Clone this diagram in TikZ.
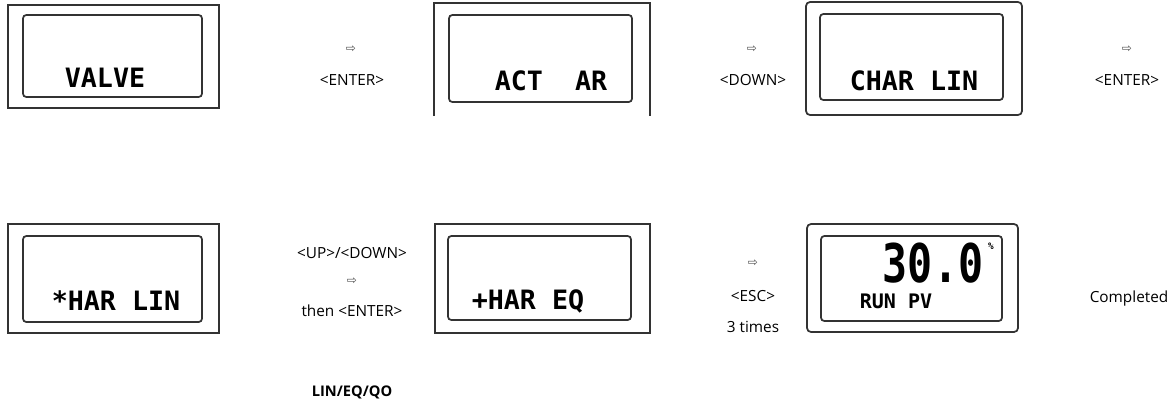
\documentclass[tikz,border=0pt]{standalone}
\usepackage{fontspec}
\setmainfont{Open Sans}
\newfontfamily\lcdfont{DejaVu Sans Mono}
\newfontfamily\symfont{DejaVu Sans}
\usetikzlibrary{positioning}

\begin{document}
\begin{tikzpicture}[x=0.75pt, y=-0.75pt, every node/.style={font=\fontsize{11.5}{13}\selectfont, inner sep=0pt}, frame/.style={draw=black!80, line width=1.3pt}, screen/.style={draw=black!80, line width=1.3pt, rounded corners=2.5pt}, lcd/.style={font=\lcdfont\bfseries\fontsize{20}{22}\selectfont}, tip/.style={font=\symfont\fontsize{9}{10}\selectfont, text=black!70}]
\useasboundingbox (0,0) rectangle (1176,405);
% row 1
\draw[frame] (8,5) rectangle (219,108);
\draw[screen] (23,15) rectangle (202,97);
\node[lcd] (valve) at (105,78) {VALVE};
\node[tip] (t1) at (351,49) {⇨};
\node (k1) at (352,80) {<ENTER>};
\draw[frame] (434,116) -- (434,3) -- (650,3) -- (650,116);
\draw[screen] (449,15) rectangle (632,102);
\node[lcd] (act) at (551,81) {ACT\ \ AR};
\node[tip] (t2) at (752,49) {⇨};
\node (k2) at (753,80) {<DOWN>};
\draw[frame, rounded corners=3pt] (806,2) rectangle (1022,115);
\draw[screen] (820,14) rectangle (1003,100);
\node[lcd] (char) at (914,81) {CHAR LIN};
\node[tip] (t3) at (1127,49) {⇨};
\node (k3) at (1127,80) {<ENTER>};
% row 2
\draw[frame] (8,224) rectangle (219,333);
\draw[screen] (23,236) rectangle (202,322);
\node[lcd] (lin) at (116,301) {*HAR LIN};
\node (k4) at (352,253) {<UP>/<DOWN>};
\node[tip] (t4) at (352,281) {⇨};
\node (k5) at (352,311) {then <ENTER>};
\node[font=\bfseries\fontsize{11}{13}\selectfont] (opt) at (352,392) {LIN/EQ/QO};
\draw[frame] (435,224) rectangle (650,333);
\draw[screen] (448,236) rectangle (631,320);
\node[lcd] (eq) at (528,301) {+HAR EQ};
\node[tip] (t5) at (753,263) {⇨};
\node (k6) at (753,296) {<ESC>};
\node (k7) at (753,327) {3 times};
\draw[frame, rounded corners=3pt] (807,224) rectangle (1018,332);
\draw[screen] (821,236) rectangle (1002,321);
\node[lcd, font=\lcdfont\bfseries\fontsize{40}{42}\selectfont] (pv) at (933,263) {\scalebox{0.78}[1]{30.0}};
\node[lcd, font=\lcdfont\bfseries\fontsize{7}{8}\selectfont] (pct) at (991,246) {\%};
\node[lcd, font=\lcdfont\bfseries\fontsize{15}{17}\selectfont] (run) at (896,301) {RUN PV};
\node (done) at (1129,299) {Completed};
\end{tikzpicture}
\end{document}
